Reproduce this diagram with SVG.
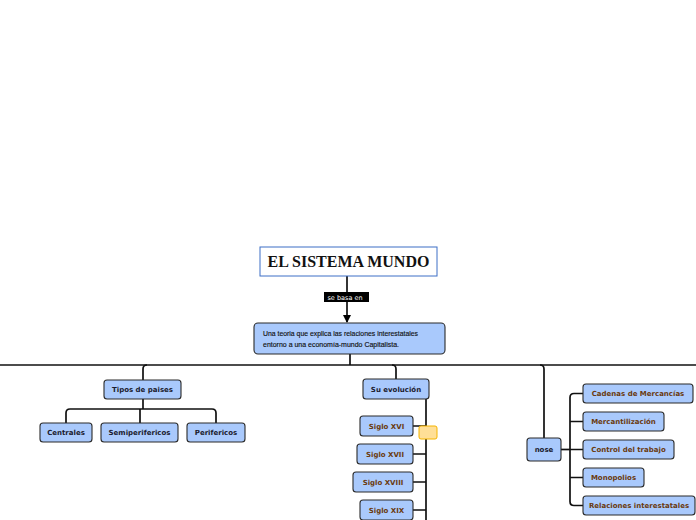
<svg xmlns="http://www.w3.org/2000/svg" width="696" height="520" viewBox="0 0 696 520">
<style>
.n{fill:#a9c9fc;stroke:#2b2b2b;stroke-width:1.1}
.t{font-family:"DejaVu Sans",Verdana,sans-serif;font-weight:bold;font-size:7px;text-anchor:middle;fill:#1b1b2e}
.b{fill:#6a3a0e}
.c{fill:none;stroke:#111;stroke-width:1.7}
</style>
<defs>
<marker id="ar" markerWidth="8" markerHeight="8" refX="7" refY="4" orient="auto" markerUnits="userSpaceOnUse">
<path d="M0,0 L8,4 L0,8 z" fill="#000"/>
</marker>
</defs>
<rect width="696" height="520" fill="#fff"/>
<g id="connectors">
<path class="c" d="M347 276 V322" marker-end="url(#ar)"/>
<path class="c" d="M350 354 V365"/>
<path class="c" d="M0 365 H696"/>
<path class="c" d="M147 365 Q143 365 143 369 V380"/>
<path class="c" d="M392 365 Q396 365 396 369 V379"/>
<path class="c" d="M540 365 Q544 365 544 369 V438"/>
<path class="c" d="M143 399 V409"/>
<path class="c" d="M66 423 V413 Q66 409 70 409 H212 Q216 409 216 413 V423"/>
<path class="c" d="M140 409 V423"/>
<path class="c" d="M426 399 V520"/>
<path class="c" d="M413 426 H426 M413 454 H426 M413 482 H426 M413 510 H426"/>
<path class="c" d="M561 449.5 H570"/>
<path class="c" d="M583 393.5 H574 Q570 393.5 570 397.5 V501.5 Q570 505.5 574 505.5 H583"/>
<path class="c" d="M570 421.5 H583 M570 449.5 H583 M570 477.5 H583"/>
</g>
<g id="label-se-basa-en">
<rect x="324" y="292" width="45" height="10" fill="#000"/>
<text x="345" y="299.5" font-family="'DejaVu Sans',sans-serif" font-size="6.5" fill="#fff" text-anchor="middle">se basa en</text>
</g>
<g id="title">
<rect x="260" y="247" width="177" height="29" fill="#fff" stroke="#3d6fc6" stroke-width="1"/>
<text x="348.5" y="267" font-family="'Liberation Serif','Times New Roman',serif" font-weight="bold" font-size="16" text-anchor="middle" fill="#111">EL SISTEMA MUNDO</text>
</g>
<g id="teoria">
<rect class="n" x="254" y="323" width="191" height="31" rx="4"/>
<text font-family="'Liberation Sans Narrow','Liberation Sans',Arial,sans-serif" font-size="7.5" fill="#111" stroke="#111" stroke-width="0.15">
<tspan x="263" y="336" textLength="155" lengthAdjust="spacingAndGlyphs">Una teoria que explica las relaciones interestatales</tspan>
<tspan x="263" y="347" textLength="136" lengthAdjust="spacingAndGlyphs">entorno a una economía-mundo Capitalista.</tspan>
</text>
</g>
<g id="tipos">
<rect class="n" x="104" y="380" width="77" height="19" rx="3"/>
<text class="t" x="142.5" y="392">Tipos de paises</text>
</g>
<g id="centrales">
<rect class="n" x="40" y="423" width="52" height="19" rx="3"/>
<text class="t" x="66" y="435">Centrales</text>
</g>
<g id="semiperifericos">
<rect class="n" x="101" y="423" width="77" height="19" rx="3"/>
<text class="t" x="139.5" y="435">Semiperifericos</text>
</g>
<g id="perifericos">
<rect class="n" x="187" y="423" width="58" height="19" rx="3"/>
<text class="t" x="216" y="435">Perifericos</text>
</g>
<g id="evolucion">
<rect class="n" x="363" y="379" width="66" height="20" rx="3"/>
<text class="t" x="396" y="391.5">Su evolución</text>
</g>
<g id="siglo-xvi">
<rect class="n" x="360" y="416" width="53" height="20" rx="3"/>
<text class="t b" x="386.5" y="428.5">Siglo XVI</text>
</g>
<g id="siglo-xvii">
<rect class="n" x="357" y="444" width="56" height="20" rx="3"/>
<text class="t b" x="385" y="456.5">Siglo XVII</text>
</g>
<g id="siglo-xviii">
<rect class="n" x="353" y="472" width="60" height="20" rx="3"/>
<text class="t b" x="383" y="484.5">Siglo XVIII</text>
</g>
<g id="siglo-xix">
<rect class="n" x="360" y="500" width="53" height="20" rx="3"/>
<text class="t b" x="386.5" y="512.5">Siglo XIX</text>
</g>
<g id="nota">
<rect x="419" y="426" width="18" height="13" rx="2" fill="#ffdf97" stroke="#f5b400" stroke-width="1"/>
</g>
<g id="nose">
<rect class="n" x="527" y="438" width="34" height="23" rx="3"/>
<text class="t" x="544" y="452">nose</text>
</g>
<g id="cadenas">
<rect class="n" x="583" y="384" width="110" height="19" rx="3"/>
<text class="t b" x="638" y="396">Cadenas de Mercancías</text>
</g>
<g id="mercantilizacion">
<rect class="n" x="583" y="412" width="81" height="19" rx="3"/>
<text class="t b" x="623.5" y="424">Mercantilización</text>
</g>
<g id="control">
<rect class="n" x="583" y="440" width="91" height="19" rx="3"/>
<text class="t b" x="628.5" y="452">Control del trabajo</text>
</g>
<g id="monopolios">
<rect class="n" x="583" y="468" width="61" height="19" rx="3"/>
<text class="t b" x="613.5" y="480">Monopolios</text>
</g>
<g id="relaciones">
<rect class="n" x="583" y="496" width="112" height="19" rx="3"/>
<text class="t b" x="639" y="508">Relaciones interestatales</text>
</g>
</svg>
